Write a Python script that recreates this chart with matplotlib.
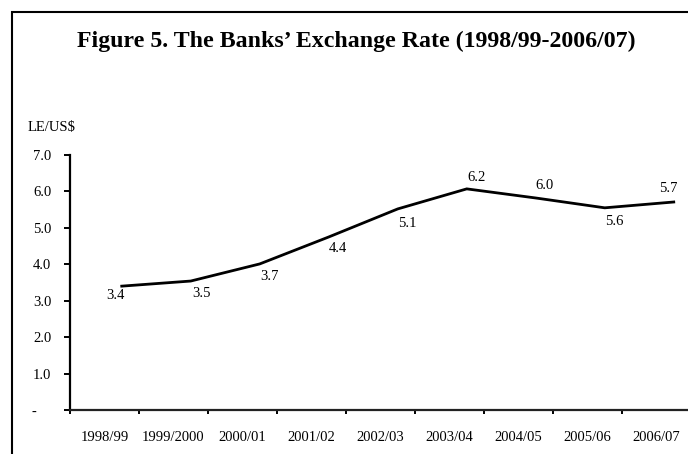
import matplotlib
matplotlib.use("Agg")
import matplotlib.pyplot as plt
from matplotlib.patches import Rectangle
import numpy as np

# ---- data ----
categories = ["1998/99", "1999/2000", "2000/01", "2001/02", "2002/03",
              "2003/04", "2004/05", "2005/06", "2006/07"]
rate_values = [3.40, 3.54, 4.01, 4.75, 5.52, 6.07, 5.82, 5.55, 5.71]
label_texts = ["3.4", "3.5", "3.7", "4.4", "5.1", "6.2", "6.0", "5.6", "5.7"]
y_ticks = [0, 1, 2, 3, 4, 5, 6, 7]
y_tick_labels = ["-    ", "1.0", "2.0", "3.0", "4.0", "5.0", "6.0", "7.0"]

# label offsets in pixels (dx, dy) -- styling only
label_offsets = [(-6, -9), (11, -12), (10, -13), (9, -12), (10, -15),
                 (10, 11), (9, 12), (9, -14), (-6, 13)]

plt.rcParams['font.family'] = ['Liberation Serif', 'DejaVu Serif']

W, H = 688, 454
fig = plt.figure(figsize=(W / 100, H / 100), dpi=100)

ax_left = 70 / W
ax_bottom = (H - 410) / H
ax_height = (410 - 155) / H
ax_width = 9 * 69 / W
ax = fig.add_axes([ax_left, ax_bottom, ax_width, ax_height])

x = np.arange(len(categories)) + 0.25
ax.plot(x, rate_values, color='black', lw=2.0, solid_joinstyle='miter')

for xi, v, t, (dx, dy) in zip(x, rate_values, label_texts, label_offsets):
    ax.annotate(t, (xi, v), xytext=(dx, dy), textcoords='offset pixels',
                ha='center', va='center', fontsize=10.5, color='black')

ax.set_xlim(-0.5, len(categories) - 0.5)
ax.set_ylim(0, 7)

ax.spines['top'].set_visible(False)
ax.spines['right'].set_visible(False)
ax.spines['left'].set_linewidth(1.6)
ax.spines['bottom'].set_linewidth(1.6)
ax.spines['bottom'].set_color('#222222')

ax.set_yticks(y_ticks)
ax.set_yticklabels(y_tick_labels, fontsize=10.5)
ax.tick_params(axis='y', direction='out', length=4.5, width=1.4, pad=9)

ax.set_xticks(np.arange(len(categories) + 1) - 0.5)
ax.set_xticklabels([])
ax.set_xticks(np.arange(len(categories)), minor=True)
ax.set_xticklabels(categories, minor=True, fontsize=10.5)
ax.tick_params(axis='x', which='major', direction='out', length=3, width=1.4)
ax.tick_params(axis='x', which='minor', length=0, pad=15)

# y unit label
fig.text(28 / W, 1 - 128 / H, "LE/US$", fontsize=10.5, ha='left', va='center')

# title, fitted to target width
title = fig.text(356.5 / W, 1 - 47 / H,
                 "Figure 5. The Banks\u2019 Exchange Rate (1998/99-2006/07)",
                 fontsize=15, fontweight='bold', ha='center', va='baseline')
fig.canvas.draw()
bb = title.get_window_extent(fig.canvas.get_renderer())
title.set_fontsize(15 * 559 / bb.width)

# outer frame (partially cut off at right and bottom)
fig.add_artist(Rectangle((12 / W, -0.1), 1.0, 1 - 12 / H + 0.1,
                         transform=fig.transFigure, fill=False,
                         lw=1.5, edgecolor='black'))

fig.savefig("out.png", dpi=100)
